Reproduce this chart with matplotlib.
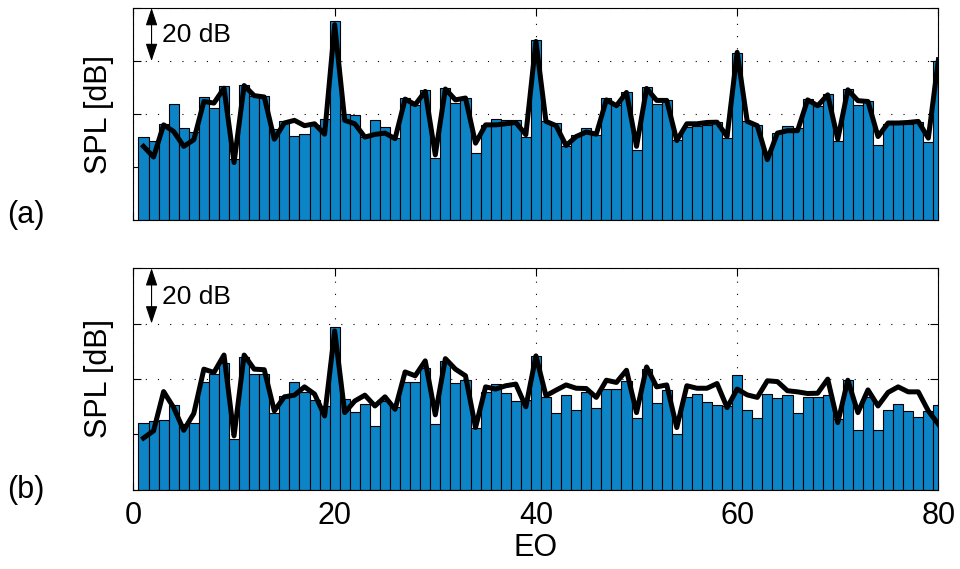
import numpy as np
import matplotlib
matplotlib.use("Agg")
from matplotlib import pyplot as plt

# engine orders and SPL levels (dB)
eo = np.arange(1, 81)

bars_a = [31.3, 30.0, 36.4, 43.8, 34.8, 33.3, 46.5, 42.3, 50.5, 23.0,
          51.1, 46.7, 47.0, 34.5, 37.5, 31.9, 32.6, 36.0, 38.2, 75.2,
          40.0, 39.8, 31.6, 37.9, 35.2, 31.0, 46.1, 43.6, 49.0, 23.5,
          49.8, 44.2, 46.1, 25.4, 36.0, 38.3, 37.7, 37.9, 31.6, 67.8,
          37.3, 36.7, 27.9, 32.3, 35.0, 32.3, 46.1, 43.6, 48.3, 26.6,
          50.1, 43.8, 45.4, 30.4, 35.2, 35.7, 36.0, 36.9, 31.0, 63.0,
          37.3, 36.0, 25.4, 32.9, 35.7, 34.8, 45.7, 43.2, 47.6, 29.8,
          49.5, 43.6, 44.8, 28.5, 36.4, 36.4, 36.4, 36.9, 29.5, 59.9]
line_a = [27.9, 23.9, 36.0, 33.5, 27.9, 30.4, 44.8, 44.2, 49.8, 21.8,
          50.8, 47.0, 46.5, 30.6, 36.7, 37.7, 35.7, 36.4, 32.5, 73.7,
          37.7, 36.4, 31.4, 32.4, 32.9, 30.8, 45.7, 43.6, 48.6, 24.7,
          49.5, 45.4, 46.1, 29.1, 36.0, 36.0, 36.4, 36.9, 32.3, 67.4,
          37.3, 35.7, 28.2, 31.6, 33.3, 32.5, 45.4, 43.2, 48.2, 27.9,
          49.7, 45.2, 45.2, 30.1, 36.4, 36.4, 36.9, 37.0, 31.6, 63.3,
          37.3, 35.7, 22.9, 32.9, 33.8, 33.8, 45.4, 43.2, 47.3, 30.6,
          49.2, 45.1, 44.8, 31.6, 36.7, 36.7, 36.9, 37.3, 31.0, 60.5]

bars_b = [24.2, 24.8, 25.1, 30.5, 23.6, 24.2, 38.7, 41.7, 45.9, 18.4,
          48.0, 41.7, 41.7, 27.8, 33.9, 38.9, 35.1, 32.3, 30.2, 58.8,
          32.7, 28.1, 30.8, 23.0, 32.0, 29.9, 39.0, 38.9, 43.9, 23.6,
          46.5, 38.4, 39.6, 22.4, 35.1, 38.3, 34.8, 32.0, 32.3, 48.3,
          33.3, 27.8, 34.2, 28.8, 35.3, 29.3, 36.3, 36.3, 39.3, 26.0,
          43.5, 31.2, 35.9, 20.0, 33.5, 34.5, 31.8, 30.5, 30.2, 41.3,
          28.7, 25.7, 34.7, 32.9, 34.2, 27.6, 33.3, 33.3, 34.1, 25.4,
          39.5, 21.4, 33.3, 21.4, 28.8, 30.8, 28.4, 26.3, 28.4, 30.6]
line_b = [18.6, 21.2, 35.4, 29.6, 21.4, 27.5, 43.5, 42.3, 48.6, 19.4,
          48.6, 43.5, 43.3, 28.4, 33.5, 34.1, 37.1, 34.5, 26.6, 57.3,
          27.8, 32.0, 34.1, 30.2, 33.5, 29.0, 42.5, 41.1, 46.5, 27.0,
          47.3, 43.5, 41.1, 22.4, 37.1, 36.3, 37.5, 38.1, 29.9, 48.3,
          33.9, 35.9, 37.8, 36.6, 36.5, 33.3, 39.5, 38.7, 43.1, 27.8,
          44.3, 37.1, 37.8, 22.4, 37.5, 36.6, 36.6, 38.3, 29.6, 36.3,
          34.2, 33.3, 39.3, 39.0, 35.7, 35.3, 34.7, 34.8, 39.9, 24.2,
          39.5, 27.8, 36.0, 30.2, 35.1, 37.1, 35.3, 35.3, 28.4, 23.6]

xticks = [0, 20, 40, 60, 80]
yticks = [0, 20, 40, 60, 80]

plt.rcParams['font.family'] = ['Liberation Sans', 'DejaVu Sans']

fig = plt.figure(figsize=(9.6, 5.69), dpi=100)
ax_a = fig.add_axes([0.139, 0.6125, 0.8385, 0.3735])
ax_b = fig.add_axes([0.139, 0.1397, 0.8385, 0.389])

for ax, bars, line, tag, ytag in [(ax_a, bars_a, line_a, '(a)', 1 - 215 / 569),
                                  (ax_b, bars_b, line_b, '(b)', 1 - 490 / 569)]:
    ax.bar(eo, bars, width=1.0, color='#0c84c6', edgecolor='black', linewidth=0.8, zorder=2)
    ax.plot(eo, line, color='black', linewidth=3.6, zorder=3)
    ax.set_xlim(0, 80)
    ax.set_ylim(0, 80)
    ax.set_xticks(xticks)
    ax.set_yticks(yticks)
    ax.set_yticklabels([])
    ax.grid(True, linestyle=(0, (1, 10)), color='black', linewidth=0.8, zorder=1)
    ax.set_axisbelow(True)
    ax.tick_params(direction='in', length=6, top=True, right=True, labelsize=22, pad=8)
    ax.set_ylabel('SPL [dB]', fontsize=22, labelpad=6)
    # 20 dB scale arrow
    ax.annotate('', xy=(1.8, 80), xytext=(1.8, 60),
                arrowprops=dict(arrowstyle='<|-|>,head_length=0.6,head_width=0.2',
                                color='black', lw=0.8, mutation_scale=18,
                                shrinkA=0, shrinkB=0))
    ax.text(2.8, 69.7, '20 dB', fontsize=19, va='center', ha='left')
    fig.text(26 / 960, ytag, tag, fontsize=22, ha='center', va='center')

ax_a.set_xticklabels([])
ax_b.set_xlabel('EO', fontsize=22, labelpad=2)

fig.savefig('out.png', dpi=100)
